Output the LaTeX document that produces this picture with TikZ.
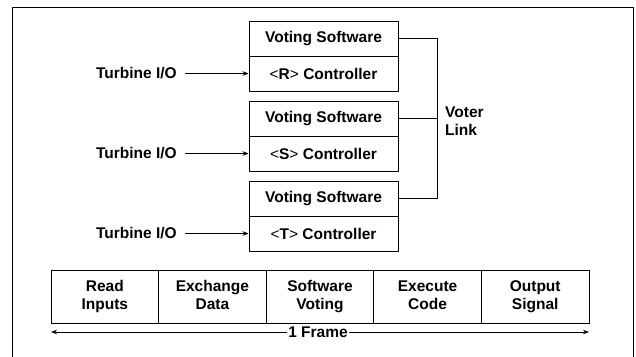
\documentclass[tikz,border=0pt]{standalone}
\usepackage{fontspec}
\setmainfont{Liberation Sans}
\usetikzlibrary{arrows.meta}
\begin{document}
\begin{tikzpicture}[x=1pt,y=-1pt,
  every node/.style={font=\fontsize{15.5}{18}\selectfont\bfseries},
  cell/.style={draw,line width=1pt,minimum width=149pt,minimum height=35pt,inner sep=0pt},
  stage/.style={draw,line width=1pt,minimum width=107.6pt,minimum height=53pt,inner sep=0pt,align=center},
  lbl/.style={inner sep=0pt},
  link/.style={line width=1pt},
  feed/.style={line width=1pt,-{Stealth[length=6pt,width=4.5pt]}}
]
\useasboundingbox (0,0) rectangle (636,356);
% outer frame (open at bottom)
\draw[line width=1pt] (12,357) -- (12,7) -- (633,7) -- (633,357);

% controller boxes
\node[cell] (vr) at (323.5,38.5) {Voting Software};
\node[cell] (cr) at (323.5,73.5) {{\mdseries<}R{\mdseries>} Controller};
\node[cell] (vs) at (323.5,118.5) {Voting Software};
\node[cell] (cs) at (323.5,153.5) {{\mdseries<}S{\mdseries>} Controller};
\node[cell] (vt) at (323.5,198.5) {Voting Software};
\node[cell] (ct) at (323.5,233.5) {{\mdseries<}T{\mdseries>} Controller};

% turbine inputs
\node[lbl,anchor=east] (tr) at (177,73.5) {Turbine I/O};
\node[lbl,anchor=east] (ts) at (177,153.5) {Turbine I/O};
\node[lbl,anchor=east] (tt) at (177,233.5) {Turbine I/O};
\draw[feed] ([xshift=8pt]tr.east) -- (cr.west);
\draw[feed] ([xshift=8pt]ts.east) -- (cs.west);
\draw[feed] ([xshift=8pt]tt.east) -- (ct.west);

% voter link
\coordinate (vltop) at (437,38.5);
\coordinate (vlmid) at (437,118.5);
\coordinate (vlbot) at (437,198.5);
\draw[link] (vr.east) -- (vltop) -- (vlbot) -- (vt.east);
\draw[link] (vs.east) -- (vlmid);
\node[lbl,align=left,anchor=west] (vl) at (445,121) {Voter\\Link};

% frame stages
\node[stage] (s1) at (104.8,296.5) {Read\strut\\Inputs\strut};
\node[stage] (s2) at (212.4,296.5) {Exchange\strut\\Data\strut};
\node[stage] (s3) at (320,296.5) {Software\strut\\Voting\strut};
\node[stage] (s4) at (427.6,296.5) {Execute\strut\\Code\strut};
\node[stage] (s5) at (535.2,296.5) {Output\strut\\Signal\strut};

% 1 frame arrow
\coordinate (fl) at (51,332);
\coordinate (fr) at (589,332);
\node[inner sep=1.5pt] (ft) at (318,332) {1 Frame};
\draw[feed] (ft.west) -- (fl);
\draw[feed] (ft.east) -- (fr);
\end{tikzpicture}
\end{document}
